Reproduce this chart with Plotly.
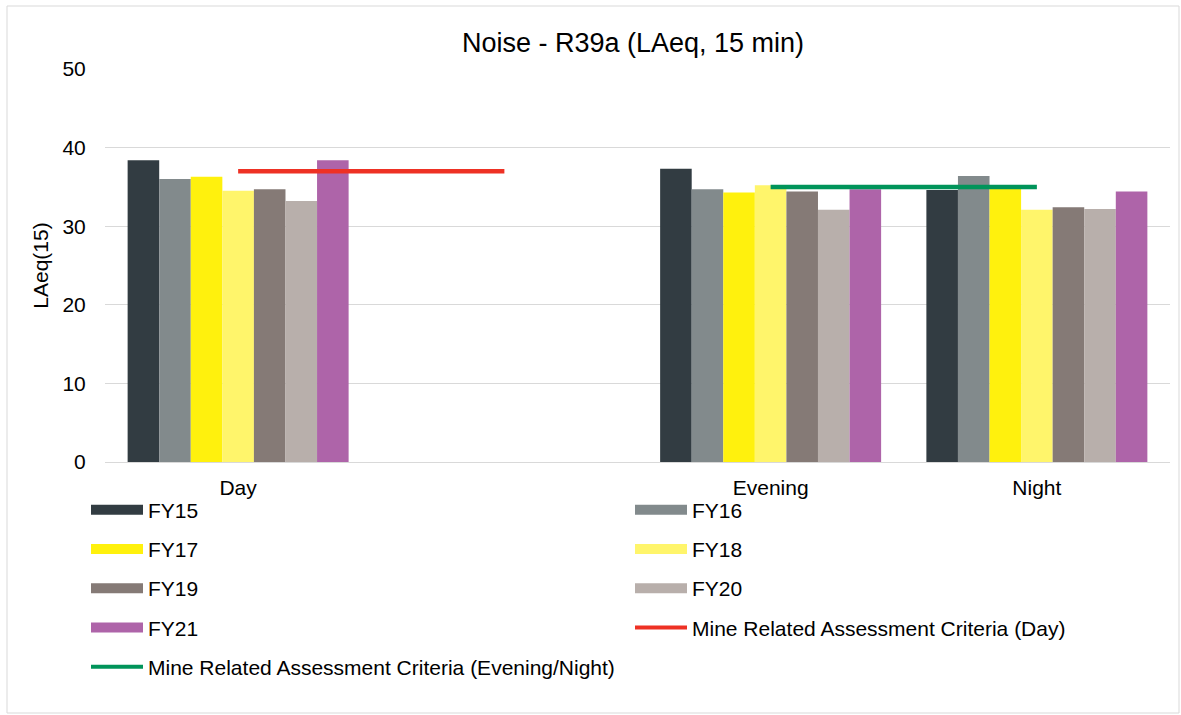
import plotly.graph_objects as go

categories = ["Day", "", "Evening", "Night"]
cat_pos = [0, 1, 2, 3]
series_names = ["FY15", "FY16", "FY17", "FY18", "FY19", "FY20", "FY21"]
fy15 = [38.4, None, 37.3, 34.6]
fy16 = [36.0, None, 34.7, 36.4]
fy17 = [36.3, None, 34.3, 35.0]
fy18 = [34.5, None, 35.2, 32.1]
fy19 = [34.7, None, 34.4, 32.4]
fy20 = [33.2, None, 32.1, 32.2]
fy21 = [38.4, None, 34.7, 34.4]
series_values = [fy15, fy16, fy17, fy18, fy19, fy20, fy21]
colors = ["#323c42", "#828a8c", "#fff10d", "#fff56b", "#857a76", "#b8afab", "#ae64a9"]

day_criteria_x = [0, 1]
day_criteria_y = [37, 37]
eve_criteria_x = [2, 3]
eve_criteria_y = [35, 35]
day_name = "Mine Related Assessment Criteria (Day)"
eve_name = "Mine Related Assessment Criteria (Evening/Night)"
red = "#ee3124"
green = "#00945a"

FONT = "Liberation Sans, Arial, sans-serif"
fig = go.Figure()

for name, vals, col in zip(series_names, series_values, colors):
    fig.add_trace(go.Bar(x=cat_pos, y=vals, name=name, marker=dict(color=col, line=dict(width=0)),
                         showlegend=False))

fig.add_trace(go.Scatter(x=day_criteria_x, y=day_criteria_y, mode="lines", name=day_name,
                         line=dict(color=red, width=4.5), showlegend=False))
fig.add_trace(go.Scatter(x=eve_criteria_x, y=eve_criteria_y, mode="lines", name=eve_name,
                         line=dict(color=green, width=4.5), showlegend=False))

# legend entries (two columns)
left_col = [0, 2, 4, 6]
right_col = [1, 3, 5]
for i in left_col:
    fig.add_trace(go.Scatter(x=[None], y=[None], mode="lines", name=series_names[i],
                             line=dict(color=colors[i], width=11), legend="legend",
                             legendgroup="g%d" % i))
fig.add_trace(go.Scatter(x=[None], y=[None], mode="lines", name=eve_name,
                         line=dict(color=green, width=4), legend="legend", legendgroup="eve"))
for i in right_col:
    fig.add_trace(go.Scatter(x=[None], y=[None], mode="lines", name=series_names[i],
                             line=dict(color=colors[i], width=11), legend="legend2",
                             legendgroup="g%d" % i))
fig.add_trace(go.Scatter(x=[None], y=[None], mode="lines", name=day_name,
                         line=dict(color=red, width=4), legend="legend2", legendgroup="day"))

W, H = 1181, 715
ml, mr, mt, mb = 105, 11, 69, 253
pw, ph = W - ml - mr, H - mt - mb


def px2x(p):
    return (p - ml) / pw


def px2y(p):
    return (H - mb - p) / ph


legend_common = dict(orientation="v", font=dict(family=FONT, size=21, color="#000"),
                     bgcolor="rgba(0,0,0,0)", tracegroupgap=9, itemwidth=52,
                     xanchor="left", yanchor="top", traceorder="grouped")

fig.update_layout(
    width=W, height=H,
    margin=dict(l=ml, r=mr, t=mt, b=mb),
    paper_bgcolor="white", plot_bgcolor="white",
    title=dict(text="Noise - R39a (LAeq, 15 min)", x=0.536, xanchor="center", y=0.94, yanchor="middle",
               font=dict(family=FONT, size=27, color="#000")),
    barmode="group", bargap=0.17, bargroupgap=0,
    font=dict(family=FONT, size=21, color="#000"),
    legend=dict(x=px2x(86), y=px2y(489.5), **legend_common),
    legend2=dict(x=px2x(630), y=px2y(489.5), **legend_common),
    shapes=[dict(type="rect", xref="paper", yref="paper",
                 x0=px2x(7), x1=px2x(1179), y0=px2y(713), y1=px2y(6),
                 line=dict(color="#d9d9d9", width=1), fillcolor="rgba(0,0,0,0)", layer="below")],
)
fig.update_xaxes(range=[-0.5, 3.5], tickvals=cat_pos, ticktext=categories, showgrid=False,
                 showline=False, zeroline=False, ticks="outside", ticklen=7, tickcolor="rgba(0,0,0,0)",
                 tickfont=dict(family=FONT, size=21, color="#000"))
fig.update_yaxes(range=[0, 50], dtick=10, showgrid=True, gridcolor="#d9d9d9", gridwidth=1,
                 zeroline=True, zerolinecolor="#d9d9d9", zerolinewidth=1, showline=False,
                 ticks="outside", ticklen=14, tickcolor="rgba(0,0,0,0)",
                 title=dict(text="LAeq(15)", font=dict(family=FONT, size=21, color="#000"), standoff=8),
                 tickfont=dict(family=FONT, size=21, color="#000"))

fig.write_html("out.html", config={"displayModeBar": False},
               post_script="document.body.style.margin='0';")
